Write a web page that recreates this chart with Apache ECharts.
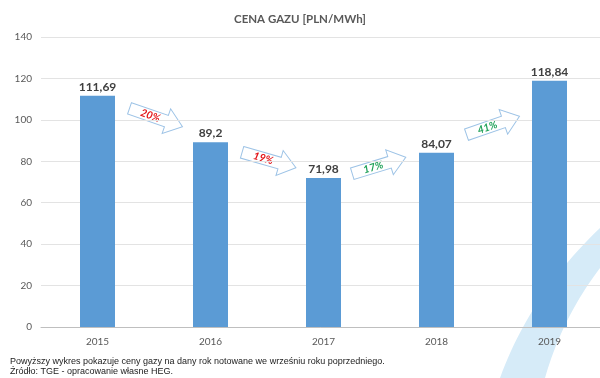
<!DOCTYPE html>
<html><head><meta charset="utf-8">
<script src="https://cdn.jsdelivr.net/npm/echarts@6/dist/echarts.min.js"></script>
<style>html,body{margin:0;padding:0;background:#fff}#c{width:600px;height:378px}</style>
</head><body><div id="c"></div>
<script>
const years = ['2015', '2016', '2017', '2018', '2019'];
const prices = [111.69, 89.2, 71.98, 84.07, 118.84];
const changes = ['20%', '19%', '17%', '41%'];
const changeUp = [false, false, true, true];
const yTicks = { min: 0, max: 140, interval: 20 };

const chart = echarts.init(document.getElementById('c'));
const FONT = 'Lato, "Open Sans", sans-serif';

// arrow decorations (geometry only)
const arrowPlaces = [
  { x: 156, y: 117.5, r: -19 },
  { x: 269, y: 160, r: -16 },
  { x: 379, y: 165.5, r: 17 },
  { x: 493, y: 125.5, r: 19 }
];
function arrow(i) {
  const p = arrowPlaces[i];
  return {
    type: 'group', x: p.x, y: p.y, rotation: p.r * Math.PI / 180, z: 50,
    children: [
      { type: 'polygon', shape: { points: [[-28,-6],[11,-6],[11,-13],[28,0],[11,13],[11,6],[-28,6]] },
        style: { fill: '#fff', stroke: '#9dc3e6', lineWidth: 1 } },
      { type: 'text', x: -6, y: 0,
        style: { text: changes[i], fill: changeUp[i] ? '#21a25a' : '#e3171c',
          font: 'italic bold 10.5px ' + FONT, align: 'center', verticalAlign: 'middle' } }
    ]
  };
}
// decorative swoosh (quadratic curves sampled)
function quad(p0, c, p1, n) {
  const pts = [];
  for (let k = 0; k <= n; k++) {
    const t = k / n, u = 1 - t;
    pts.push([u*u*p0[0] + 2*u*t*c[0] + t*t*p1[0], u*u*p0[1] + 2*u*t*c[1] + t*t*p1[1]]);
  }
  return pts;
}
const swoosh = quad([500,378],[530,295],[600,228],24).concat(quad([600,268],[562,318],[545,378],24));

chart.setOption({
  animation: false,
  title: { text: 'CENA GAZU [PLN/MWh]', left: 'center', top: 8,
    textStyle: { fontSize: 11.5, fontWeight: 'bold', color: '#595959', fontFamily: FONT } },
  grid: { left: 41, width: 565, top: 37, bottom: 51, containLabel: false, outerBoundsMode: 'none' },
  xAxis: { type: 'category', data: years,
    axisLine: { lineStyle: { color: '#bfbfbf' } }, axisTick: { show: false },
    axisLabel: { color: '#595959', fontSize: 10, margin: 10, fontFamily: FONT } },
  yAxis: { type: 'value', min: yTicks.min, max: yTicks.max, interval: yTicks.interval,
    axisLine: { show: false }, axisTick: { show: false },
    axisLabel: { color: '#595959', fontSize: 10, margin: 9, fontFamily: FONT },
    splitLine: { lineStyle: { color: '#e3e3e3' } } },
  series: [{ type: 'bar', data: prices, barWidth: 35, z: 10,
    itemStyle: { color: '#5b9bd5' },
    label: { show: true, position: 'top', distance: 3, color: '#404040', fontWeight: 'bold',
      fontSize: 12, fontFamily: FONT,
      formatter: p => String(p.value).replace('.', ',') } }],
  graphic: [
    { type: 'polygon', z: -10, silent: true, shape: { points: swoosh },
      style: { fill: '#d6ebf8' } },
    arrow(0), arrow(1), arrow(2), arrow(3),
    { type: 'text', left: 10, top: 357, style: { text: 'Powyższy wykres pokazuje ceny gazy na dany rok notowane we wrześniu roku poprzedniego.',
      fill: '#222', font: '9px "Liberation Sans", Arial, sans-serif' } },
    { type: 'text', left: 10, top: 367, style: { text: 'Źródło: TGE - opracowanie własne HEG.',
      fill: '#222', font: '9px "Liberation Sans", Arial, sans-serif' } }
  ]
});
</script></body></html>
